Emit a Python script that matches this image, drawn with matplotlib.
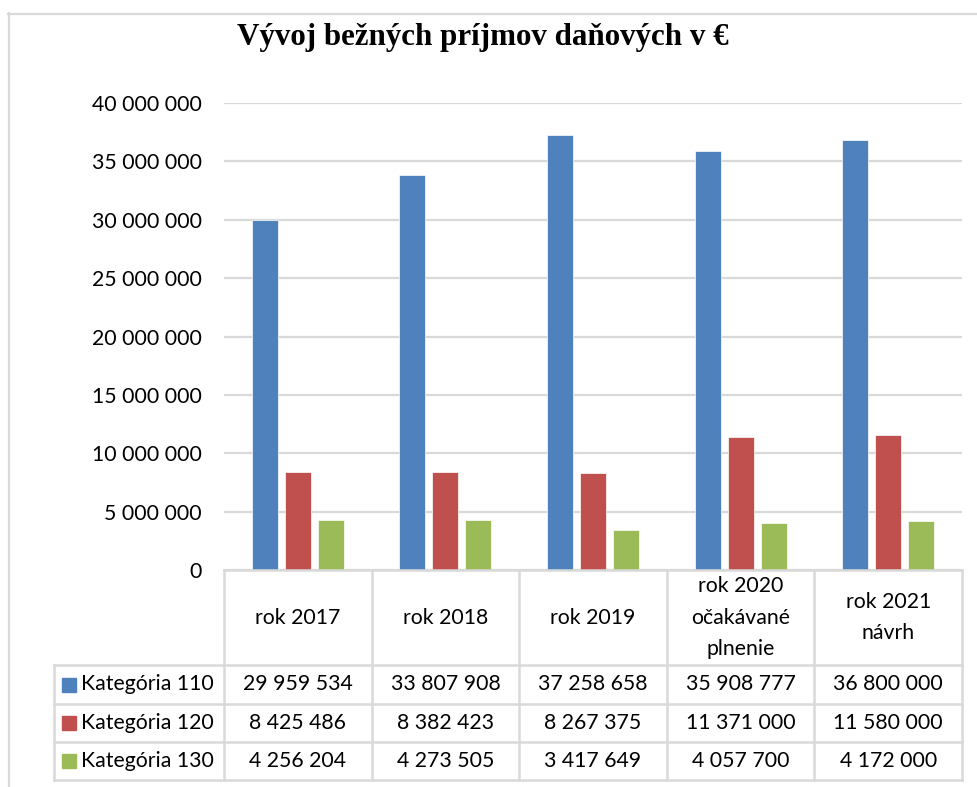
import numpy as np
import matplotlib
matplotlib.use("Agg")
from matplotlib import pyplot as plt
from matplotlib.lines import Line2D

# data
categories = ["rok 2017", "rok 2018", "rok 2019",
              "rok 2020\nočakávané\nplnenie", "rok 2021\nnávrh"]
series_names = ["Kategória 110", "Kategória 120", "Kategória 130"]
kat_110 = [29959534, 33807908, 37258658, 35908777, 36800000]
kat_120 = [8425486, 8382423, 8267375, 11371000, 11580000]
kat_130 = [4256204, 4273505, 3417649, 4057700, 4172000]
colors = ["#4F81BD", "#C0504D", "#9BBB59"]
yticks = [0, 5000000, 10000000, 15000000, 20000000,
          25000000, 30000000, 35000000, 40000000]

W, H = 977, 787
plt.rcParams['font.family'] = ['Lato', 'DejaVu Sans']
fig = plt.figure(figsize=(W / 100, H / 100), dpi=100)

def fx(px):
    return px / W

def fy(py):
    return 1 - py / H

grid_col = "#D9D9D9"
fs = 15.3

# outer chart border (only top/left visible in the crop)
fig.add_artist(Line2D([fx(8.5), fx(8.5)], [fy(13), fy(790)], color=grid_col, lw=1.6))
fig.add_artist(Line2D([fx(8), fx(980)], [fy(13.5), fy(13.5)], color=grid_col, lw=1.6))

fig.text(fx(483), fy(38), "Vývoj bežných príjmov daňových v €",
         family="Liberation Serif", weight="bold", fontsize=22.3,
         ha="center", va="center")

# bars
left, right, top, bottom = 224, 962, 103, 570
ax = fig.add_axes([fx(left), fy(bottom), fx(right) - fx(left), fy(top) - fy(bottom)])
x = np.arange(len(categories))
bw, step = 0.176, 0.224
all_series = [kat_110, kat_120, kat_130]
for i, vals in enumerate(all_series):
    ax.bar(x + (i - 1) * step, vals, width=bw, color=colors[i],
           edgecolor="white", linewidth=0.5, zorder=3)
ax.set_xlim(-0.5, len(categories) - 0.5)
ax.set_ylim(0, 40000000)
ax.set_yticks(yticks)
ax.set_yticklabels([f"{v:,}".replace(",", " ") for v in yticks], fontsize=fs)
ax.tick_params(axis="y", length=0, pad=16)
ax.set_xticks([])
ax.yaxis.grid(True, color=grid_col, lw=1.6, zorder=0)
for s in ax.spines.values():
    s.set_visible(False)

# data table underneath, sharing the category scale
tleft, tbottom = 54, 780
unit = (right - left) / len(categories)
tax = fig.add_axes([fx(tleft), fy(tbottom), fx(right) - fx(tleft), fy(bottom) - fy(tbottom)])
x0 = -0.5 - (left - tleft) / unit
tax.set_xlim(x0, len(categories) - 0.5)
tax.set_ylim(tbottom - bottom, 0)
tax.axis("off")
row_edges = [0, 95, 134, 172, 210]
bounds = np.arange(len(categories) + 1) - 0.5
lw = 1.8
# horizontal lines
tax.plot([bounds[0], bounds[-1]], [row_edges[0]] * 2, color=grid_col, lw=lw, clip_on=False)
for r in row_edges[1:]:
    tax.plot([x0, bounds[-1]], [r, r], color=grid_col, lw=lw, clip_on=False)
# vertical lines
for b in bounds:
    tax.plot([b, b], [0, row_edges[-1]], color=grid_col, lw=lw, clip_on=False)
tax.plot([x0, x0], [row_edges[1], row_edges[-1]], color=grid_col, lw=lw, clip_on=False)

for j, c in enumerate(categories):
    tax.text(j, row_edges[1] / 2, c, ha="center", va="center",
             fontsize=fs, linespacing=1.72)
for i, vals in enumerate(all_series):
    yc = (row_edges[i + 1] + row_edges[i + 2]) / 2
    tax.plot([x0 + 15 / unit], [yc], marker="s", ms=10, color=colors[i],
             clip_on=False)
    tax.text(x0 + 27 / unit, yc, series_names[i], ha="left", va="center", fontsize=fs)
    for j, v in enumerate(vals):
        tax.text(j, yc, f"{v:,}".replace(",", " "), ha="center", va="center",
                 fontsize=fs)

fig.savefig("out.png", dpi=100)
